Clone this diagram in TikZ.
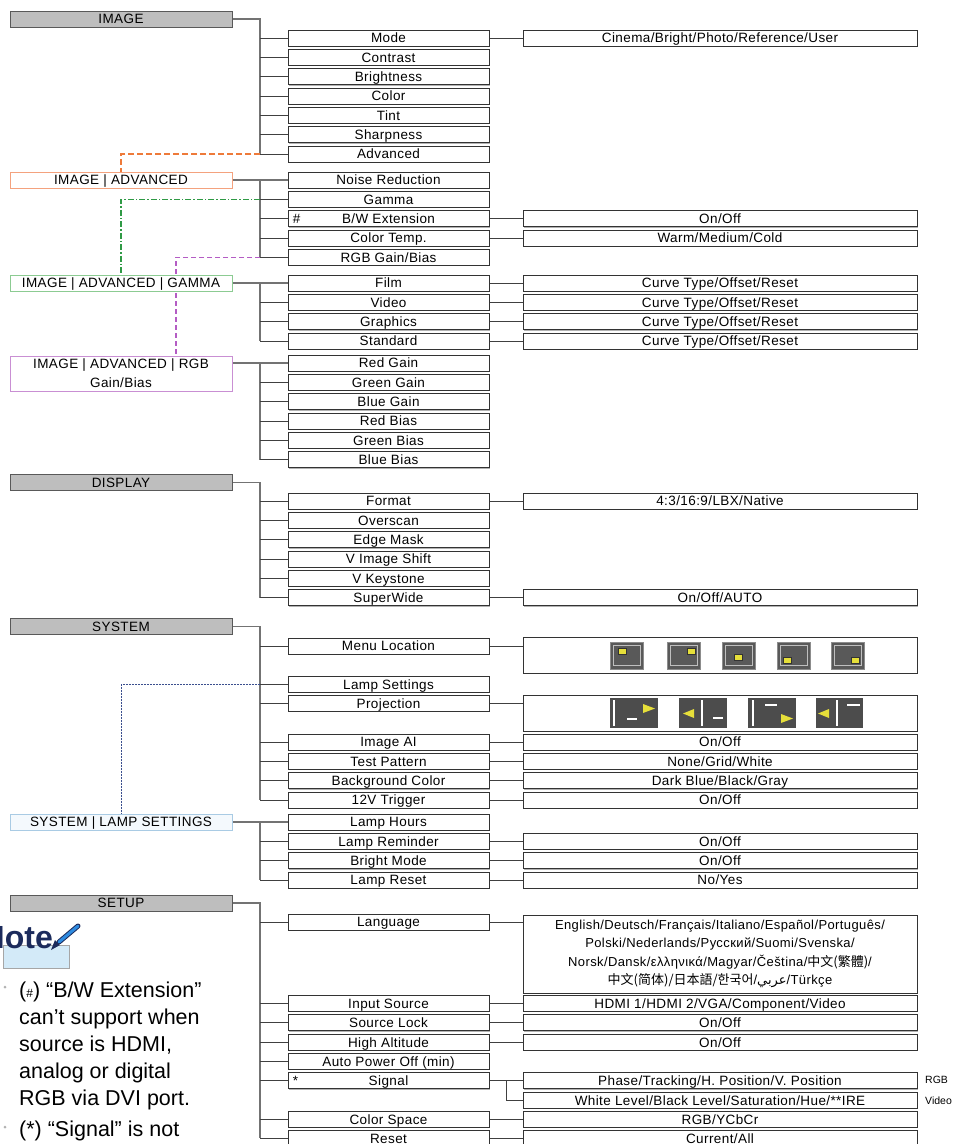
\documentclass[tikz,border=0pt]{standalone}
\usepackage{fontspec}
\setmainfont{Liberation Sans}
\newfontfamily\boxfont{Liberation Sans}[LetterSpace=3.0]
\newfontfamily\cjkfont{Noto Sans CJK SC}
\newfontfamily\arabicfont[Script=Arabic]{DejaVu Sans}
\TeXXeTstate=1
\usepackage{xcolor}
\usepackage{tikz}
\usetikzlibrary{backgrounds,shadows}

\definecolor{headgray}{HTML}{BEBEBE}
\definecolor{advorange}{HTML}{F4A27E}
\definecolor{advline}{HTML}{EE7A3A}
\definecolor{gamgreen}{HTML}{8CCB92}
\definecolor{gamline}{HTML}{2F9A45}
\definecolor{rgbpurple}{HTML}{C98FD3}
\definecolor{rgbline}{HTML}{B45CC4}
\definecolor{lampblue}{HTML}{A9CBE4}
\definecolor{lampfill}{HTML}{F4F9FD}
\definecolor{lampline}{HTML}{3B4F8E}
\definecolor{notenavy}{HTML}{1C2B5C}
\definecolor{notebg}{HTML}{D3EAF8}
\definecolor{penblue}{HTML}{2E8BE0}
\definecolor{iconyellow}{HTML}{E6DF3A}

\newcommand{\boxtext}{\boxfont\fontsize{13.5}{16}\selectfont}
\newcommand{\langtext}{\boxfont\fontsize{13}{18.5}\selectfont}
\newcommand{\notetext}{\fontsize{21.5}{27}\selectfont}

\begin{document}
\begin{tikzpicture}[x=1pt, y=-1pt,
    boxbase/.style={rectangle, line width=0.8pt, inner sep=0pt,
                    minimum height=16pt, font=\boxtext},
    oneline/.style={text height=10.8pt, text depth=1.2pt},
    boxshadow/.style={drop shadow={shadow xshift=0.8pt, shadow yshift=-0.9pt,
                      fill=black, opacity=0.3}},
    headbox/.style={boxbase, oneline, draw=black!65, fill=headgray,
                    minimum width=222pt},
    subhead/.style={boxbase, draw=#1, fill=white, minimum width=222pt},
    itembox/.style={boxbase, oneline, boxshadow, draw=black!80, fill=white,
                    minimum width=201pt},
    valbox/.style={boxbase, oneline, boxshadow, draw=black!80, fill=white,
                   minimum width=394pt},
    langbox/.style={boxbase, boxshadow, draw=black!80, fill=white, align=center,
                    minimum width=394pt, minimum height=78pt, font=\langtext},
    spine/.style={draw=black!55, line width=1.1pt},
    branch/.style={draw=black!75, line width=0.9pt},
    advlink/.style={draw=advline, line width=1.1pt, dash pattern=on 6pt off 3pt},
    gamlink/.style={draw=gamline, line width=1.1pt,
                    dash pattern=on 6pt off 2pt on 1.5pt off 2pt},
    rgblink/.style={draw=rgbline, line width=1.1pt, dash pattern=on 5pt off 3pt},
    lamplink/.style={draw=lampline, line width=0.9pt, dash pattern=on 2pt off 1pt},
    marktext/.style={font=\boxtext, inner sep=0pt, anchor=west},
    sidelabel/.style={font=\fontsize{10.5}{12}\selectfont, inner sep=0pt, anchor=west},
    notebody/.style={font=\notetext, align=left, inner sep=0pt, anchor=north west}
  ]

    \useasboundingbox (0,0) rectangle (953,1144);

    % IMAGE
    \node[headbox] (image) at (121,19) {IMAGE};
    \node[itembox] (mode) at (388.5,38) {Mode};
    \node[itembox] (contrast) at (388.5,57.3) {Contrast};
    \node[itembox] (brightness) at (388.5,76.7) {Brightness};
    \node[itembox] (color) at (388.5,96) {Color};
    \node[itembox] (tint) at (388.5,115.3) {Tint};
    \node[itembox] (sharpness) at (388.5,134.7) {Sharpness};
    \node[itembox] (advanced) at (388.5,154) {Advanced};
    \node[valbox] (modev) at (720,38) {Cinema/Bright/Photo/Reference/User};

    % IMAGE | ADVANCED
    \node[subhead=advorange, oneline] (imgadv) at (121,180) {IMAGE | ADVANCED};
    \node[itembox] (noise) at (388.5,180) {Noise Reduction};
    \node[itembox] (gamma) at (388.5,199.3) {Gamma};
    \node[itembox] (bwext) at (388.5,218.7) {B/W Extension};
    \node[marktext] (bwmark) at ([xshift=5pt,yshift=-0.5pt]bwext.west) {\#};
    \node[itembox] (colortemp) at (388.5,238) {Color Temp.};
    \node[itembox] (rgbgb) at (388.5,257.3) {RGB Gain/Bias};
    \node[valbox] (bwextv) at (720,218.7) {On/Off};
    \node[valbox] (colortempv) at (720,238) {Warm/Medium/Cold};

    % IMAGE | ADVANCED | GAMMA
    \node[subhead=gamgreen, oneline] (imggamma) at (121,283) {IMAGE | ADVANCED | GAMMA};
    \node[itembox] (film) at (388.5,283) {Film};
    \node[itembox] (video) at (388.5,302.3) {Video};
    \node[itembox] (graphics) at (388.5,321.7) {Graphics};
    \node[itembox] (standard) at (388.5,341) {Standard};
    \node[valbox] (filmv) at (720,283) {Curve Type/Offset/Reset};
    \node[valbox] (videov) at (720,302.3) {Curve Type/Offset/Reset};
    \node[valbox] (graphicsv) at (720,321.7) {Curve Type/Offset/Reset};
    \node[valbox] (standardv) at (720,341) {Curve Type/Offset/Reset};

    % IMAGE | ADVANCED | RGB Gain/Bias
    \node[subhead=rgbpurple, align=center, minimum height=35pt,
          font=\boxfont\fontsize{13.5}{19}\selectfont] (imgrgb) at (121,373.5)
          {IMAGE | ADVANCED | RGB\\Gain/Bias};
    \node[itembox] (redgain) at (388.5,363) {Red Gain};
    \node[itembox] (greengain) at (388.5,382.3) {Green Gain};
    \node[itembox] (bluegain) at (388.5,401.7) {Blue Gain};
    \node[itembox] (redbias) at (388.5,421) {Red Bias};
    \node[itembox] (greenbias) at (388.5,440.3) {Green Bias};
    \node[itembox] (bluebias) at (388.5,459.7) {Blue Bias};

    % DISPLAY
    \node[headbox] (display) at (121,482.5) {DISPLAY};
    \node[itembox] (format) at (388.5,501) {Format};
    \node[itembox] (overscan) at (388.5,520.3) {Overscan};
    \node[itembox] (edgemask) at (388.5,539.7) {Edge Mask};
    \node[itembox] (vshift) at (388.5,559) {V Image Shift};
    \node[itembox] (vkey) at (388.5,578.3) {V Keystone};
    \node[itembox] (superwide) at (388.5,597.7) {SuperWide};
    \node[valbox] (formatv) at (720,501) {4:3/16:9/LBX/Native};
    \node[valbox] (superwidev) at (720,597.7) {On/Off/AUTO};

    % SYSTEM
    \node[headbox] (system) at (121,626.5) {SYSTEM};
    \node[itembox] (menuloc) at (388.5,646) {Menu Location};
    \node[itembox] (lampset) at (388.5,684.5) {Lamp Settings};
    \node[itembox] (projection) at (388.5,703.5) {Projection};
    \node[itembox] (imageai) at (388.5,742) {Image AI};
    \node[itembox] (testpat) at (388.5,761.3) {Test Pattern};
    \node[itembox] (bgcolor) at (388.5,780.7) {Background Color};
    \node[itembox] (trigger) at (388.5,800) {12V Trigger};
    \node[valbox, minimum height=36pt] (menulocv) at (720,655) {};
    \node[valbox, minimum height=36pt] (projectionv) at (720,713) {};
    \node[valbox] (imageaiv) at (720,742) {On/Off};
    \node[valbox] (testpatv) at (720,761.3) {None/Grid/White};
    \node[valbox] (bgcolorv) at (720,780.7) {Dark Blue/Black/Gray};
    \node[valbox] (triggerv) at (720,800) {On/Off};

    % SYSTEM | LAMP SETTINGS
    \node[subhead=lampblue, oneline, fill=lampfill] (syslamp) at (121,822) {SYSTEM | LAMP SETTINGS};
    \node[itembox] (lamphours) at (388.5,822) {Lamp Hours};
    \node[itembox] (lamprem) at (388.5,841.3) {Lamp Reminder};
    \node[itembox] (brightmode) at (388.5,860.7) {Bright Mode};
    \node[itembox] (lampreset) at (388.5,880) {Lamp Reset};
    \node[valbox] (lampremv) at (720,841.3) {On/Off};
    \node[valbox] (brightmodev) at (720,860.7) {On/Off};
    \node[valbox] (lampresetv) at (720,880) {No/Yes};

    % SETUP
    \node[headbox] (setup) at (121,903) {SETUP};
    \node[itembox] (language) at (388.5,922) {Language};
    \node[itembox] (inputsrc) at (388.5,1003.5) {Input Source};
    \node[itembox] (srclock) at (388.5,1022.8) {Source Lock};
    \node[itembox] (altitude) at (388.5,1042.2) {High Altitude};
    \node[itembox] (autooff) at (388.5,1061.5) {Auto Power Off (min)};
    \node[itembox] (signal) at (388.5,1080.8) {Signal};
    \node[marktext] (sigmark) at ([xshift=5pt]signal.west) {*};
    \node[itembox] (colorspace) at (388.5,1119.5) {Color Space};
    \node[itembox, text depth=0.2pt] (reset) at (388.5,1138) {Reset};
    \node[langbox] (languagev) at (720,954)
          {English/Deutsch/Français/Italiano/Español/Português/\\
           Polski/Nederlands/Русский/Suomi/Svenska/\\
           Norsk/Dansk/ελληνικά/Magyar/Čeština/{\cjkfont 中文(繁體)}/\\
           {\cjkfont 中文(简体)/日本語/한국어}/{\arabicfont\beginR عربي\endR}/Türkçe};
    \node[valbox] (inputsrcv) at (720,1003.5) {HDMI 1/HDMI 2/VGA/Component/Video};
    \node[valbox] (srclockv) at (720,1022.8) {On/Off};
    \node[valbox] (altitudev) at (720,1042.2) {On/Off};
    \node[valbox] (phasev) at (720,1080.8) {Phase/Tracking/H. Position/V. Position};
    \node[valbox] (whitev) at (720,1100.2) {White Level/Black Level/Saturation/Hue/**IRE};
    \node[valbox] (colorspacev) at (720,1119.5) {RGB/YCbCr};
    \node[valbox, text depth=0.2pt] (resetv) at (720,1138) {Current/All};
    \node[sidelabel] (rgblabel) at (925,1079.5) {RGB};
    \node[sidelabel] (videolabel) at (925,1100.5) {Video};

    % menu location icons
    \foreach \ix/\dx/\dy in {610/12/9.5, 667/24/9.5, 722/16/15, 777/10/18, 831/24/18}{
      \draw[black!45, fill=black!65, line width=0.8pt] (\ix,642) rectangle ++(33,27);
      \draw[black!25, line width=0.8pt] (\ix+3,645) rectangle ++(27,20);
      \draw[black!80, fill=iconyellow, line width=0.5pt] (\ix+\dx-4,642+\dy-3) rectangle ++(8,6);
    }

    % projection icons
    \fill[black!70] (610,698) rectangle (658,728);
    \draw[white, line width=1.2pt] (614,700) -- (614,726);
    \draw[white, line width=2pt] (627,719) -- (637,719);
    \fill[iconyellow] (643,704) -- (655,708.5) -- (643,713) -- cycle;
    \fill[black!70] (679,698) rectangle (727,728);
    \fill[iconyellow] (694,709) -- (683,713.5) -- (694,718) -- cycle;
    \draw[white, line width=1.2pt] (702,700) -- (702,726);
    \draw[white, line width=2pt] (713,718) -- (723,718);
    \fill[black!70] (748,698) rectangle (796,728);
    \draw[white, line width=1.2pt] (753,700) -- (753,726);
    \draw[white, line width=2pt] (765,705) -- (777,705);
    \fill[iconyellow] (781,714) -- (793,718.5) -- (781,723) -- cycle;
    \fill[black!70] (816,698) rectangle (863,728);
    \fill[iconyellow] (829,709) -- (818,713.5) -- (829,718) -- cycle;
    \draw[white, line width=1.2pt] (837,700) -- (837,726);
    \draw[white, line width=2pt] (847,705) -- (860,705);

    % note
    \fill[notebg, draw=black!35] (3,945) rectangle (69,968);
    \node[font=\fontsize{32}{32}\selectfont\bfseries, text=notenavy,
          inner sep=0pt, anchor=base east] (notehead) at (53,948) {Note};
    \draw[notenavy, line width=5pt, line cap=round] (59,942) -- (78,926);
    \draw[penblue, line width=3pt, line cap=round] (59,942) -- (78,926);
    \fill[notenavy] (55,940) -- (60,945) -- (51,950) -- cycle;
    \fill[black!30] (5,987) circle (1.5);
    \node[notebody] (note1) at (19,981.3)
          {({\fontsize{12}{12}\selectfont\#}) “B/W Extension”\\
           can’t support when\\
           source is HDMI,\\
           analog or digital\\
           RGB via DVI port.};
    \fill[black!30] (5,1127) circle (1.5);
    \node[notebody] (note2) at (19,1121) {(*) “Signal” is not};

    \begin{scope}[on background layer]
    \fill[white] (0,0) rectangle (953,1144);
    \coordinate (sx) at (260,0);
    \coordinate (sigx) at (506,0);

    % trunk lines
    \draw[spine] (image.east) -| (sx |- advanced.west);
    \draw[spine] (imgadv.east) -- (noise.west);
    \draw[spine] (sx |- noise.west) -- (sx |- rgbgb.west);
    \draw[spine] (imggamma.east) -- (film.west);
    \draw[spine] (sx |- film.west) -- (sx |- standard.west);
    \draw[spine] (imgrgb.east |- redgain.west) -- (redgain.west);
    \draw[spine] (sx |- redgain.west) -- (sx |- bluebias.west);
    \draw[spine] (display.east) -| (sx |- superwide.west);
    \draw[spine] (system.east) -| (sx |- trigger.west);
    \draw[spine] (syslamp.east) -- (lamphours.west);
    \draw[spine] (sx |- lamphours.west) -- (sx |- lampreset.west);
    \draw[spine] (setup.east) -| (sx |- reset.west);

    % links to the sub menus
    \draw[advlink] (sx |- advanced.west) -| (imgadv.north);
    \draw[gamlink] (sx |- gamma.west) -| (imggamma.north);
    \draw[rgblink] (sx |- rgbgb.west) -| ([xshift=55pt]imgrgb.north);
    \draw[lamplink] (sx |- lampset.west) -| (syslamp.north);

    \path[branch]
    %image
    (sx |- mode.west) edge (mode.west)
    (sx |- contrast.west) edge (contrast.west)
    (sx |- brightness.west) edge (brightness.west)
    (sx |- color.west) edge (color.west)
    (sx |- tint.west) edge (tint.west)
    (sx |- sharpness.west) edge (sharpness.west)
    (sx |- advanced.west) edge (advanced.west)
    (mode) edge (modev)
    %advanced
    (sx |- gamma.west) edge (gamma.west)
    (sx |- bwext.west) edge (bwext.west)
    (sx |- colortemp.west) edge (colortemp.west)
    (sx |- rgbgb.west) edge (rgbgb.west)
    (bwext) edge (bwextv)
    (colortemp) edge (colortempv)
    %gamma
    (sx |- video.west) edge (video.west)
    (sx |- graphics.west) edge (graphics.west)
    (sx |- standard.west) edge (standard.west)
    (film) edge (filmv)
    (video) edge (videov)
    (graphics) edge (graphicsv)
    (standard) edge (standardv)
    %rgb gain/bias
    (sx |- greengain.west) edge (greengain.west)
    (sx |- bluegain.west) edge (bluegain.west)
    (sx |- redbias.west) edge (redbias.west)
    (sx |- greenbias.west) edge (greenbias.west)
    (sx |- bluebias.west) edge (bluebias.west)
    %display
    (sx |- format.west) edge (format.west)
    (sx |- overscan.west) edge (overscan.west)
    (sx |- edgemask.west) edge (edgemask.west)
    (sx |- vshift.west) edge (vshift.west)
    (sx |- vkey.west) edge (vkey.west)
    (sx |- superwide.west) edge (superwide.west)
    (format) edge (formatv)
    (superwide) edge (superwidev)
    %system
    (sx |- menuloc.west) edge (menuloc.west)
    (sx |- lampset.west) edge (lampset.west)
    (sx |- projection.west) edge (projection.west)
    (sx |- imageai.west) edge (imageai.west)
    (sx |- testpat.west) edge (testpat.west)
    (sx |- bgcolor.west) edge (bgcolor.west)
    (sx |- trigger.west) edge (trigger.west)
    (menuloc.east) edge (menuloc.east -| menulocv.west)
    (projection.east) edge (projection.east -| projectionv.west)
    (imageai) edge (imageaiv)
    (testpat) edge (testpatv)
    (bgcolor) edge (bgcolorv)
    (trigger) edge (triggerv)
    %lamp settings
    (sx |- lamprem.west) edge (lamprem.west)
    (sx |- brightmode.west) edge (brightmode.west)
    (sx |- lampreset.west) edge (lampreset.west)
    (lamprem) edge (lampremv)
    (brightmode) edge (brightmodev)
    (lampreset) edge (lampresetv)
    %setup
    (sx |- language.west) edge (language.west)
    (sx |- inputsrc.west) edge (inputsrc.west)
    (sx |- srclock.west) edge (srclock.west)
    (sx |- altitude.west) edge (altitude.west)
    (sx |- autooff.west) edge (autooff.west)
    (sx |- signal.west) edge (signal.west)
    (sx |- colorspace.west) edge (colorspace.west)
    (sx |- reset.west) edge (reset.west)
    (language.east) edge (language.east -| languagev.west)
    (inputsrc) edge (inputsrcv)
    (srclock) edge (srclockv)
    (altitude) edge (altitudev)
    (signal) edge (phasev)
    (sigx |- signal.east) edge[to path={|- (\tikztotarget)}] (whitev.west)
    (colorspace) edge (colorspacev)
    (reset) edge (resetv);
    \end{scope}

\end{tikzpicture}
\end{document}
